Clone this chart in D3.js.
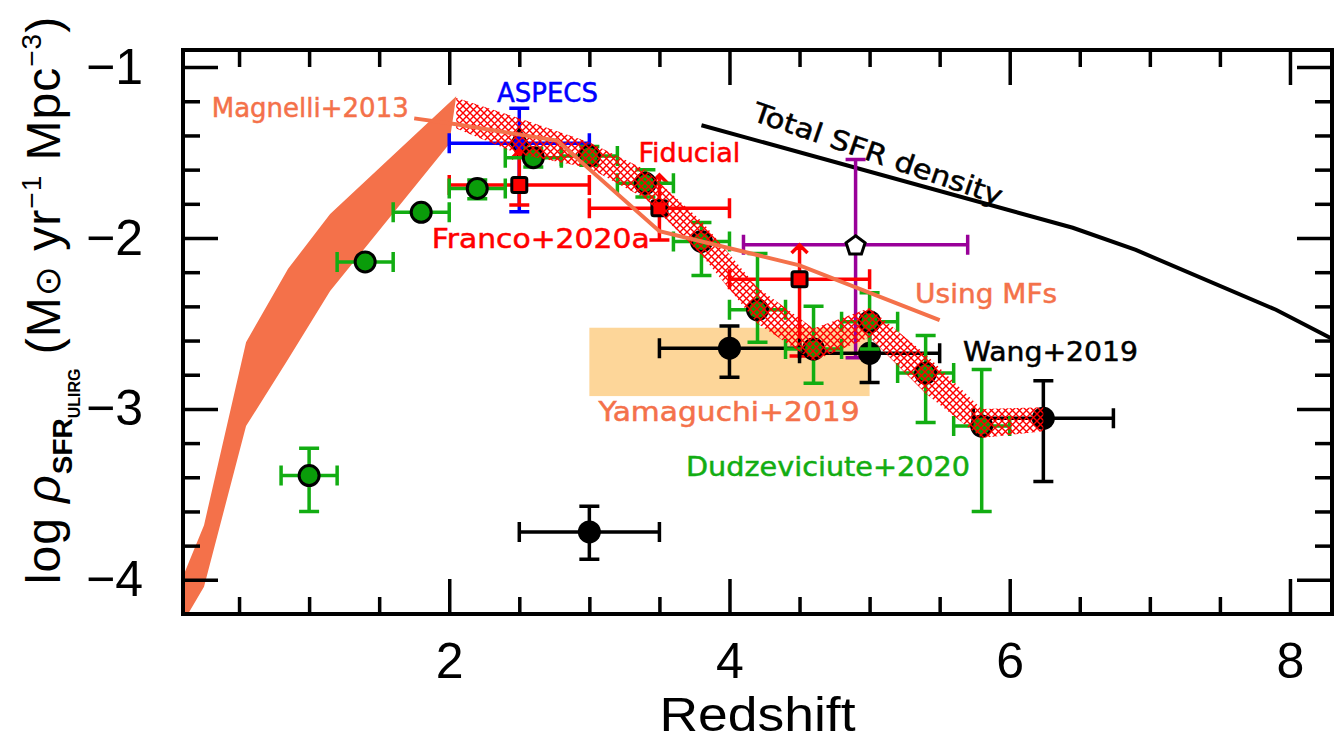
<!DOCTYPE html>
<html>
<head>
<meta charset="utf-8">
<script src="https://cdn.jsdelivr.net/npm/d3@7"></script>
<style>
  body { margin: 0; background: #fff; }
  svg { display: block; }
</style>
</head>
<body>
<div id="chart"></div>
<script>
// Magnelli+2013 band, upper and lower edges
const magUpperZ = [0.1, 0.25, 0.55, 0.85, 1.15, 2.05]
const magUpper = [-3.98, -3.68, -2.61, -2.18, -1.86, -1.17]
const magLowerZ = [0.1, 0.25, 0.55, 0.85, 1.15, 2.0]
const magLower = [-4.25, -4.04, -3.10, -2.71, -2.31, -1.45]

// hatched band
const bandZ = [2.05, 2.5, 3.0, 3.4, 3.8, 4.2, 4.6, 5.0, 5.4, 5.8, 6.24]
const bandUpper = [-1.18, -1.30, -1.44, -1.60, -1.90, -2.29, -2.53, -2.41, -2.68, -3.00, -2.99]
const bandLower = [-1.36, -1.51, -1.59, -1.77, -2.10, -2.50, -2.72, -2.58, -2.91, -3.17, -3.13]

// Using MFs
const mfZ = [1.75, 2.05, 2.77, 3.5, 4.5, 5.5]
const mfVal = [-1.30, -1.335, -1.43, -1.96, -2.16, -2.48]

// Total SFR density
const totZ = [3.8, 6.45, 6.9, 7.9, 8.3]
const totVal = [-1.34, -1.94, -2.07, -2.42, -2.59]

// Yamaguchi+2019 box
const yamZ = [3.0, 5.0]
const yamVal = [-2.925, -2.525]

// Dudzeviciute+2020
const dudZ = [1.0, 1.4, 1.8, 2.2, 2.6, 3.0, 3.4, 3.8, 4.2, 4.6, 5.0, 5.4, 5.8]
const dudVal = [-3.39, -2.14, -1.85, -1.71, -1.53, -1.52, -1.68, -2.02, -2.42, -2.65, -2.49, -2.79, -3.10]
const dudUp = [0.16, 0.02, 0.02, 0.05, 0.055, 0.055, 0.08, 0.11, 0.33, 0.25, 0.17, 0.22, 0.33]
const dudDown = [0.21, 0.02, 0.02, 0.06, 0.055, 0.055, 0.08, 0.20, 0.19, 0.20, 0.16, 0.29, 0.50]
const dudXerr = [0.2, 0.2, 0.2, 0.2, 0.2, 0.2, 0.2, 0.2, 0.2, 0.2, 0.2, 0.2, 0.2]

// Wang+2019
const wangZ = [3.0, 4.0, 5.0, 6.24]
const wangVal = [-3.72, -2.645, -2.675, -3.055]
const wangUp = [0.15, 0.13, 0.17, 0.22]
const wangDown = [0.16, 0.17, 0.17, 0.37]
const wangXerr = [0.5, 0.5, 0.5, 0.5]

// Franco+2020a (lower limits)
const francoZ = [2.5, 3.5, 4.5]
const francoVal = [-1.69, -1.826, -2.242]
const francoArrow = [-1.49, -1.631, -2.041]
const francoLow = [-1.807, -2.012, -2.69]
const francoXerr = [0.5, 0.5, 0.5]

// ASPECS
const aspecsZ = [2.5]
const aspecsVal = [-1.446]
const aspecsUp = [0.205]
const aspecsDown = [0.40]
const aspecsXerr = [0.5]

// open pentagon
const pentZ = [4.9]
const pentVal = [-2.04]
const pentUp = [0.50]
const pentDown = [0.66]
const pentXerr = [0.8]

const xMajor = [2, 4, 6, 8]
const yMajor = [-4, -3, -2, -1]

const orange = '#f4714a'
const green = '#12ad12'
const greenFill = '#0a9c0a'

const W = 1342, H = 747
const margin = {top: 50, right: 10, bottom: 133, left: 183}
const width = W - margin.left - margin.right
const height = H - margin.top - margin.bottom

const svg = d3.select('#chart').append('svg')
    .attr('width', W)
    .attr('height', H)

const defs = svg.append('defs')
defs.append('clipPath').attr('id', 'plotClip')
    .append('rect').attr('width', width).attr('height', height)

const hatch = defs.append('pattern')
    .attr('id', 'hatch')
    .attr('patternUnits', 'userSpaceOnUse')
    .attr('width', 7)
    .attr('height', 7)
hatch.append('path')
    .attr('d', 'M0,0L7,7M7,0L0,7')
    .attr('stroke', '#ff0000')
    .attr('stroke-width', 1.4)

const plot = svg.append('g')
    .attr('transform', `translate(${margin.left}, ${margin.top})`)

const x = d3.scaleLinear().domain([0.1, 8.3]).range([0, width])
const y = d3.scaleLinear().domain([-4.2, -0.9]).range([height, 0])

const data = plot.append('g').attr('clip-path', 'url(#plotClip)')

// Yamaguchi box
data.append('rect')
    .attr('x', x(yamZ[0]))
    .attr('y', y(yamVal[1]))
    .attr('width', x(yamZ[1]) - x(yamZ[0]))
    .attr('height', y(yamVal[0]) - y(yamVal[1]))
    .attr('fill', '#fdd699')

// Magnelli band
const magPoly = magUpperZ.map((z, i) => [x(z), y(magUpper[i])])
    .concat(magLowerZ.map((z, i) => [x(z), y(magLower[i])]).reverse())
data.append('path')
    .attr('d', d3.line().curve(d3.curveLinearClosed)(magPoly))
    .attr('fill', orange)

// total SFR density
data.append('path')
    .datum(totZ.map((z, i) => ({z, v: totVal[i]})))
    .attr('d', d3.line().x(d => x(d.z)).y(d => y(d.v)))
    .attr('fill', 'none')
    .attr('stroke', '#000')
    .attr('stroke-width', 4)

const cap = 20

const errorBars = (z, v, xerr, up, down, color) => {
    const rows = z.map((d, i) => ({z: d, v: v[i], xe: xerr[i], up: up[i], dn: down[i]}))
    data.append('g')
        .attr('stroke', color)
        .attr('stroke-width', 3.5)
        .attr('fill', 'none')
        .selectAll('path')
        .data(rows)
        .join('path')
        .attr('d', d => {
            const cx = x(d.z), cy = y(d.v)
            const x0 = x(d.z - d.xe), x1 = x(d.z + d.xe)
            const y0 = y(d.v + d.up), y1 = y(d.v - d.dn)
            return `M${x0},${cy}H${x1}M${x0},${cy - cap / 2}V${cy + cap / 2}M${x1},${cy - cap / 2}V${cy + cap / 2}` +
                `M${cx},${y0}V${y1}M${cx - cap / 2},${y0}H${cx + cap / 2}M${cx - cap / 2},${y1}H${cx + cap / 2}`
        })
    return rows
}

// pentagon
const pentRows = errorBars(pentZ, pentVal, pentXerr, pentUp, pentDown, '#990099')
const pentShape = d3.range(5).map(i => {
    const a = -Math.PI / 2 + i * 2 * Math.PI / 5
    return [10 * Math.cos(a), 10 * Math.sin(a)]
})
data.append('g').selectAll('path')
    .data(pentRows)
    .join('path')
    .attr('transform', d => `translate(${x(d.z)}, ${y(d.v) + 1})`)
    .attr('d', d3.line().curve(d3.curveLinearClosed)(pentShape))
    .attr('fill', '#fff')
    .attr('stroke', '#000')
    .attr('stroke-width', 3)

// ASPECS
const aspecsRows = errorBars(aspecsZ, aspecsVal, aspecsXerr, aspecsUp, aspecsDown, '#0000ff')
data.append('g').selectAll('path')
    .data(aspecsRows)
    .join('path')
    .attr('transform', d => `translate(${x(d.z)}, ${y(d.v)})`)
    .attr('d', d3.symbol(d3.symbolDiamond, 230))
    .attr('fill', '#0000ff')
    .attr('stroke', '#000')
    .attr('stroke-width', 2.5)

// Franco+2020a
const francoRows = francoZ.map((z, i) => ({z, v: francoVal[i], tip: francoArrow[i], low: francoLow[i], xe: francoXerr[i]}))
data.append('g')
    .attr('stroke', '#ff0000')
    .attr('stroke-width', 3.5)
    .attr('fill', 'none')
    .selectAll('path')
    .data(francoRows)
    .join('path')
    .attr('d', d => {
        const cx = x(d.z), cy = y(d.v)
        const x0 = x(d.z - d.xe), x1 = x(d.z + d.xe)
        const yt = y(d.tip), yl = y(d.low)
        return `M${x0},${cy}H${x1}M${x0},${cy - cap / 2}V${cy + cap / 2}M${x1},${cy - cap / 2}V${cy + cap / 2}` +
            `M${cx},${yt}V${yl}M${cx - cap / 2},${yl}H${cx + cap / 2}` +
            `M${cx - 8},${yt + 8}L${cx},${yt}L${cx + 8},${yt + 8}`
    })
data.append('g').selectAll('rect')
    .data(francoRows)
    .join('rect')
    .attr('x', d => x(d.z) - 7.5)
    .attr('y', d => y(d.v) - 7.5)
    .attr('width', 15)
    .attr('height', 15)
    .attr('rx', 2)
    .attr('fill', '#ff0000')
    .attr('stroke', '#000')
    .attr('stroke-width', 3)

// Wang+2019
const wangRows = errorBars(wangZ, wangVal, wangXerr, wangUp, wangDown, '#000')
data.append('g').selectAll('circle')
    .data(wangRows)
    .join('circle')
    .attr('cx', d => x(d.z))
    .attr('cy', d => y(d.v))
    .attr('r', 11.5)
    .attr('fill', '#000')

// Dudzeviciute+2020
const dudRows = errorBars(dudZ, dudVal, dudXerr, dudUp, dudDown, green)
data.append('g').selectAll('circle')
    .data(dudRows)
    .join('circle')
    .attr('cx', d => x(d.z))
    .attr('cy', d => y(d.v))
    .attr('r', 10)
    .attr('fill', greenFill)
    .attr('stroke', '#000')
    .attr('stroke-width', 3)

// hatched band
data.append('path')
    .datum(bandZ.map((z, i) => ({z, hi: bandUpper[i], lo: bandLower[i]})))
    .attr('d', d3.area().x(d => x(d.z)).y0(d => y(d.lo)).y1(d => y(d.hi)))
    .attr('fill', 'url(#hatch)')

// Using MFs
data.append('path')
    .datum(mfZ.map((z, i) => ({z, v: mfVal[i]})))
    .attr('d', d3.line().x(d => x(d.z)).y(d => y(d.v)))
    .attr('fill', 'none')
    .attr('stroke', orange)
    .attr('stroke-width', 4)

// labels (baseline start in data coords, width in px)
const labels = [
    {text: 'Magnelli+2013', z: 0.305, v: -1.294, w: 197, color: orange},
    {text: 'ASPECS', z: 2.341, v: -1.207, w: 101, color: '#0000ff'},
    {text: 'Fiducial', z: 3.35, v: -1.558, w: 102, color: '#ff0000'},
    {text: 'Franco+2020a', z: 1.875, v: -2.059, w: 218, color: '#ff0000'},
    {text: 'Using MFs', z: 5.325, v: -2.38, w: 142, color: orange},
    {text: 'Wang+2019', z: 5.667, v: -2.72, w: 175, color: '#000'},
    {text: 'Yamaguchi+2019', z: 3.066, v: -3.071, w: 261, color: orange},
    {text: 'Dudzeviciute+2020', z: 3.69, v: -3.393, w: 284, color: green}
]
plot.append('g').selectAll('text')
    .data(labels)
    .join('text')
    .attr('x', d => x(d.z))
    .attr('y', d => y(d.v))
    .attr('textLength', d => d.w)
    .attr('lengthAdjust', 'spacingAndGlyphs')
    .attr('font-family', 'DejaVu Sans, sans-serif')
    .attr('font-size', 26)
    .attr('stroke', d => d.color)
    .attr('stroke-width', 0.5)
    .attr('fill', d => d.color)
    .text(d => d.text)

plot.append('text')
    .attr('transform', `translate(${x(4.154)}, ${y(-1.31)}) rotate(19)`)
    .attr('textLength', 262)
    .attr('lengthAdjust', 'spacingAndGlyphs')
    .attr('font-family', 'DejaVu Sans, sans-serif')
    .attr('font-size', 27)
    .attr('stroke', '#000')
    .attr('stroke-width', 0.5)
    .attr('fill', '#000')
    .text('Total SFR density')

// axes
const xMinor = d3.range(1, 17).map(v => v / 2).filter(v => !xMajor.includes(v))
const yMinor = d3.range(-40, -9, 2).map(v => v / 10).filter(v => !yMajor.includes(v))

const addAxis = (axis, transform) => {
    const g = plot.append('g')
        .attr('transform', transform)
        .call(axis)
    g.select('.domain').remove()
    g.selectAll('line').attr('stroke', '#000').attr('stroke-width', 3.5)
    g.attr('font-family', 'Liberation Sans, Arial, sans-serif').attr('font-size', 50)
    g.selectAll('text').attr('fill', '#000')
    return g
}

addAxis(d3.axisBottom(x).tickValues(xMajor).tickSize(-35).tickPadding(28).tickFormat(d3.format('d')), `translate(0, ${height})`)
addAxis(d3.axisBottom(x).tickValues(xMinor).tickSize(-17).tickFormat(''), `translate(0, ${height})`)
addAxis(d3.axisTop(x).tickValues(xMajor).tickSize(-35).tickFormat(''), 'translate(0, 0)')
addAxis(d3.axisTop(x).tickValues(xMinor).tickSize(-17).tickFormat(''), 'translate(0, 0)')
addAxis(d3.axisLeft(y).tickValues(yMajor).tickSize(-35).tickPadding(40).tickFormat(d3.format('d')), 'translate(0, 0)')
addAxis(d3.axisLeft(y).tickValues(yMinor).tickSize(-17).tickFormat(''), 'translate(0, 0)')
addAxis(d3.axisRight(y).tickValues(yMajor).tickSize(-35).tickFormat(''), `translate(${width}, 0)`)
addAxis(d3.axisRight(y).tickValues(yMinor).tickSize(-17).tickFormat(''), `translate(${width}, 0)`)

plot.append('rect')
    .attr('width', width)
    .attr('height', height)
    .attr('fill', 'none')
    .attr('stroke', '#000')
    .attr('stroke-width', 4)

// axis titles
svg.append('text')
    .attr('x', margin.left + width / 2)
    .attr('y', 731)
    .attr('text-anchor', 'middle')
    .attr('textLength', 196)
    .attr('lengthAdjust', 'spacingAndGlyphs')
    .attr('font-family', 'Liberation Sans, Arial, sans-serif')
    .attr('font-size', 48)
    .attr('fill', '#000')
    .text('Redshift')

const yTitle = svg.append('text')
    .attr('transform', 'translate(60, 300) rotate(-90)')
    .attr('text-anchor', 'middle')
    .attr('font-family', 'Liberation Sans, Arial, sans-serif')
    .attr('font-size', 48)
    .attr('letter-spacing', 1)
    .attr('fill', '#000')
yTitle.append('tspan').text('log ')
yTitle.append('tspan').attr('font-style', 'italic').text('ρ')
yTitle.append('tspan').attr('font-size', 28).attr('font-weight', 'bold').attr('letter-spacing', 0).attr('dy', 12).text('SFR')
yTitle.append('tspan').attr('font-size', 16).attr('font-weight', 'bold').attr('letter-spacing', 0).attr('dy', 8).text('ULIRG')
yTitle.append('tspan').attr('dy', -20).text(' (M')
yTitle.append('tspan').attr('font-family', 'DejaVu Sans, sans-serif').attr('font-size', 36).text('⊙')
yTitle.append('tspan').text(' yr')
yTitle.append('tspan').attr('font-size', 28).attr('dy', -19).text('−1')
yTitle.append('tspan').attr('dy', 19).text(' Mpc')
yTitle.append('tspan').attr('font-size', 28).attr('dy', -19).text('−3')
yTitle.append('tspan').attr('dy', 19).text(')')
</script>
</body>
</html>
